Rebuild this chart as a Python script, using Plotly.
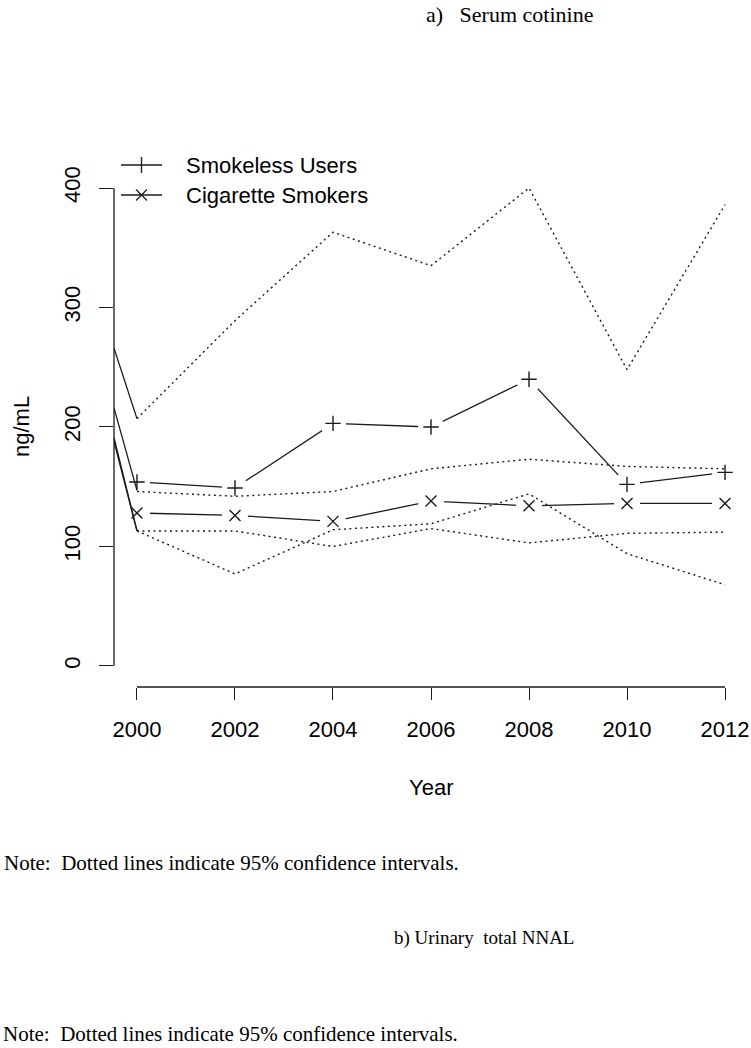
import plotly.graph_objects as go

# ---------------- data ----------------
years = [2000, 2002, 2004, 2006, 2008, 2010, 2012]
smokeless_mean = [154, 149, 203, 200, 240, 152, 162]
smokeless_upper = [207, 289, 363, 335, 400, 248, 386]
smokeless_lower = [113, 77, 114, 119, 144, 94, 68]
cigarette_mean = [128, 126, 121, 138, 134, 136, 136]
cigarette_upper = [146, 142, 146, 165, 173, 167, 165]
cigarette_lower = [113, 113, 100, 115, 103, 111, 112]

# solid segments entering from the left edge of the plot to year 2000
edge_start_values = [266, 216, 191, 188]
edge_end_values = [207, 147, 113, 113]

y_ticks = [0, 100, 200, 300, 400]
x_ticks = years

# ---------------- layout geometry ----------------
W, H = 751, 1048
L_PX, R_PX, T_PX, B_PX = 114, 748, 169, 687
X_MIN, X_MAX = 1999.531, 2012.469
Y_MIN, Y_MAX = -17.6, 415.9

SANS = "Liberation Sans, Arial, Helvetica, sans-serif"
SERIF = "Liberation Serif, Times New Roman, serif"
INK = "#1a1a1a"


def px_x(px):
    return (px - L_PX) / (R_PX - L_PX)


def px_y(py):
    return (B_PX - py) / (B_PX - T_PX)


fig = go.Figure()

solid = dict(color=INK, width=1.3)
dotted = dict(color=INK, width=1.4, dash="2px,3.5px")

# mean lines
for vals in (smokeless_mean, cigarette_mean):
    fig.add_trace(go.Scatter(x=years, y=vals, mode="lines", line=solid,
                             showlegend=False, hoverinfo="skip"))

# white gaps around points (R type="b")
for vals in (smokeless_mean, cigarette_mean):
    fig.add_trace(go.Scatter(x=years, y=vals, mode="markers",
                             marker=dict(symbol="circle", size=26, color="white",
                                         line=dict(width=0)),
                             showlegend=False, hoverinfo="skip"))

# segments from left edge
for s, e in zip(edge_start_values, edge_end_values):
    fig.add_trace(go.Scatter(x=[X_MIN, years[0]], y=[s, e], mode="lines",
                             line=solid, showlegend=False, hoverinfo="skip"))

# confidence intervals
for vals in (smokeless_upper, smokeless_lower, cigarette_upper, cigarette_lower):
    fig.add_trace(go.Scatter(x=years, y=vals, mode="lines", line=dotted,
                             showlegend=False, hoverinfo="skip"))

# point markers
fig.add_trace(go.Scatter(x=years, y=smokeless_mean, mode="markers",
                         marker=dict(symbol="cross-thin-open", size=11, color=INK,
                                     line=dict(color=INK, width=1.4)),
                         showlegend=False, hoverinfo="skip"))
fig.add_trace(go.Scatter(x=years, y=cigarette_mean, mode="markers",
                         marker=dict(symbol="x-thin-open", size=11, color=INK,
                                     line=dict(color=INK, width=1.4)),
                         showlegend=False, hoverinfo="skip"))

shapes = []
# R-style axis lines spanning first to last tick
shapes.append(dict(type="line", xref="x", yref="paper", x0=x_ticks[0], x1=x_ticks[-1],
                   y0=0, y1=0, line=dict(color=INK, width=1.3)))
shapes.append(dict(type="line", xref="paper", yref="y", x0=0, x1=0,
                   y0=y_ticks[0], y1=y_ticks[-1], line=dict(color=INK, width=1.3)))

# custom legend (lines + glyphs)
legend_rows = [(165, "Smokeless Users", "plus"), (195, "Cigarette Smokers", "x")]
annotations = []
for ypx, label, glyph in legend_rows:
    shapes.append(dict(type="line", xref="paper", yref="paper",
                       x0=px_x(121), x1=px_x(162), y0=px_y(ypx), y1=px_y(ypx),
                       line=dict(color=INK, width=1.3)))
    cx = 141.5
    if glyph == "plus":
        shapes.append(dict(type="line", xref="paper", yref="paper",
                           x0=px_x(cx), x1=px_x(cx), y0=px_y(ypx - 8), y1=px_y(ypx + 8),
                           line=dict(color=INK, width=1.3)))
    else:
        for d in (1, -1):
            shapes.append(dict(type="line", xref="paper", yref="paper",
                               x0=px_x(cx - 5.5), x1=px_x(cx + 5.5),
                               y0=px_y(ypx - 5.5 * d), y1=px_y(ypx + 5.5 * d),
                               line=dict(color=INK, width=1.3)))
    annotations.append(dict(text=label, xref="paper", yref="paper",
                            x=px_x(184), y=px_y(ypx), xanchor="left", yanchor="middle",
                            showarrow=False, font=dict(family=SANS, size=22, color="black")))

# axis titles
annotations.append(dict(text="ng/mL", xref="paper", yref="paper", x=px_x(21), y=px_y(427),
                        textangle=-90, xanchor="center", yanchor="middle", showarrow=False,
                        font=dict(family=SANS, size=22, color="black")))
annotations.append(dict(text="Year", xref="paper", yref="paper", x=0.5, y=px_y(787),
                        xanchor="center", yanchor="middle", showarrow=False,
                        font=dict(family=SANS, size=22, color="black")))

# document texts
nb = "\u00a0"
annotations.append(dict(text=f"a){nb}{nb}{nb}Serum{nb}cotinine", xref="paper", yref="paper",
                        x=px_x(509), y=px_y(14), xanchor="center", yanchor="middle",
                        showarrow=False, font=dict(family=SERIF, size=22, color="black")))
note = f"Note:{nb}{nb}Dotted lines indicate 95% confidence intervals."
annotations.append(dict(text=note, xref="paper", yref="paper", x=px_x(2), y=px_y(863),
                        xanchor="left", yanchor="middle", showarrow=False,
                        font=dict(family=SERIF, size=21, color="black")))
annotations.append(dict(text=f"b) Urinary{nb}{nb}total NNAL", xref="paper", yref="paper",
                        x=px_x(484), y=px_y(938), xanchor="center", yanchor="middle",
                        showarrow=False, font=dict(family=SERIF, size=19, color="black")))
annotations.append(dict(text=note, xref="paper", yref="paper", x=px_x(2), y=px_y(1047),
                        xanchor="left", yanchor="bottom", showarrow=False, borderpad=0,
                        font=dict(family=SERIF, size=21, color="black")))

fig.update_layout(
    width=W, height=H,
    margin=dict(l=L_PX, r=W - R_PX, t=T_PX, b=H - B_PX, pad=0),
    paper_bgcolor="white", plot_bgcolor="white",
    showlegend=False,
    shapes=shapes, annotations=annotations,
    xaxis=dict(range=[X_MIN, X_MAX], tickmode="array", tickvals=x_ticks,
               ticktext=[str(v) for v in x_ticks], ticks="outside", ticklen=12,
               tickwidth=1.3, tickcolor=INK, showgrid=False, zeroline=False,
               showline=False, ticklabelstandoff=11,
               tickfont=dict(family=SANS, size=22, color="black")),
    yaxis=dict(range=[Y_MIN, Y_MAX], tickmode="array", tickvals=y_ticks,
               ticktext=[str(v) for v in y_ticks], ticks="outside", ticklen=14,
               tickwidth=1.3, tickcolor=INK, showgrid=False, zeroline=False,
               showline=False, tickangle=-90, ticklabelstandoff=10,
               tickfont=dict(family=SANS, size=22, color="black")),
)

fig.write_html("out.html", config={"displayModeBar": False},
               post_script="document.body.style.margin='0';document.body.style.overflow='hidden';")
